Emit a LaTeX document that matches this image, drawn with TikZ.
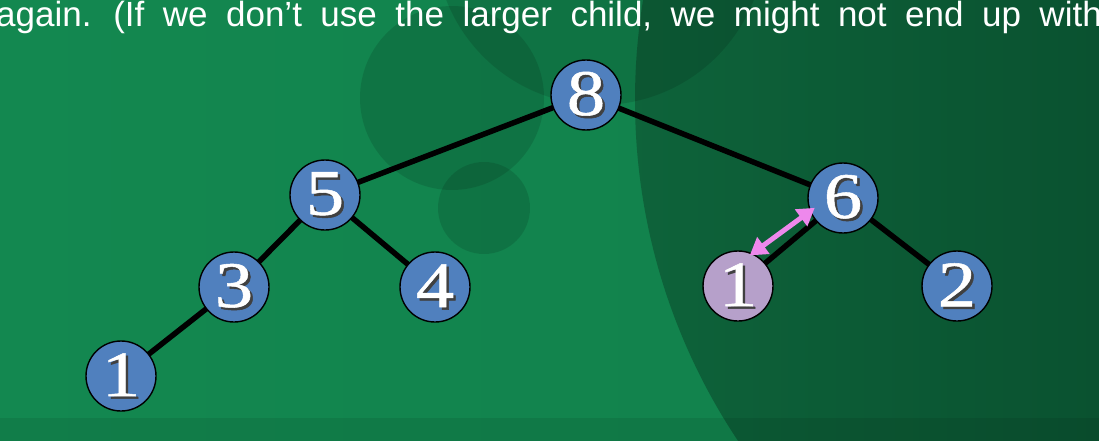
\documentclass[tikz,border=0pt]{standalone}
\usepackage{fontspec}
\setmainfont{Liberation Serif}
\newfontfamily\slidefont{Liberation Sans}
\newfontfamily\keyfont[FakeStretch=1.18,FakeBold=0.8]{Liberation Serif}
\usetikzlibrary{arrows.meta}
\definecolor{slidegreen}{RGB}{19,136,80}
\definecolor{slidegreenR}{RGB}{17,128,75}
\definecolor{darkgreen}{RGB}{14,100,59}
\definecolor{darkgreenR}{RGB}{10,82,48}
\definecolor{heapblue}{RGB}{80,128,190}
\definecolor{heaplilac}{RGB}{182,160,202}
\definecolor{swappink}{RGB}{238,136,236}
\pgfdeclarelayer{backdrop}
\pgfdeclarelayer{edges}
\pgfsetlayers{backdrop,edges,main}
\newcommand{\heapnum}[1]{\rlap{\kern2.5pt\raisebox{-2.5pt}{\color{black!75}#1}}#1}
\tikzset{
  heapnode/.style={circle,draw=black,line width=1.4pt,fill=heapblue,
    minimum size=70pt,inner sep=0pt,text=white,
    font=\keyfont\fontsize{65}{65}\selectfont},
  heapedge/.style={line width=5.5pt,black},
  bgblob/.style={fill=black,fill opacity=0.12}
}

\begin{document}
\begin{tikzpicture}[x=1pt,y=-1pt,>=Stealth]
\useasboundingbox (0,0) rectangle (1099,441);
\clip (0,0) rectangle (1099,441);
% background
\begin{pgfonlayer}{backdrop}
\shade[left color=slidegreen,right color=slidegreenR] (0,0) rectangle (1099,441);
\begin{scope}
  \clip (1250,100) circle[radius=615pt];
  \shade[left color=darkgreen,right color=darkgreenR] (600,0) rectangle (1099,441);
\end{scope}
\fill[bgblob] (600,-60) circle[radius=165pt];
\fill[bgblob] (452,98) circle[radius=92pt];
\fill[bgblob] (484,208) circle[radius=46pt];
\fill[black,fill opacity=0.08] (0,418) rectangle (1099,441);
\end{pgfonlayer}
% caption line
\node[anchor=base west,text=white,inner sep=0pt,
  font=\slidefont\fontsize{35}{40}\selectfont] (caption) at (-4,27)
  {\spaceskip=18.5pt again. (If we don’t use the larger child, we might not end up with};
% heap
\node[heapnode] (n8) at (586,95) {\heapnum{8}};
\node[heapnode] (n5) at (325,195) {\heapnum{5}};
\node[heapnode] (n6) at (843,198) {\heapnum{6}};
\node[heapnode] (n3) at (234,287) {\heapnum{3}};
\node[heapnode] (n4) at (435,287) {\heapnum{4}};
\node[heapnode,fill=heaplilac] (n1b) at (738,286) {\heapnum{1}};
\node[heapnode] (n2) at (957,286) {\heapnum{2}};
\node[heapnode] (n1a) at (121,376) {\heapnum{1}};
\begin{pgfonlayer}{edges}
\draw[heapedge] (n8.center) -- (n5.center);
\draw[heapedge] (n8.center) -- (n6.center);
\draw[heapedge] (n5.center) -- (n3.center);
\draw[heapedge] (n5.center) -- (n4.center);
\draw[heapedge] (n3.center) -- (n1a.center);
\draw[heapedge] (n6.center) -- (n1b.center);
\draw[heapedge] (n6.center) -- (n2.center);
\end{pgfonlayer}
% swap marker
\draw[{Triangle[length=17pt,width=20pt]}-{Triangle[length=17pt,width=20pt]},
  swappink,line width=5pt,shorten <=-3.5pt,shorten >=-6pt] (n1b.66) -- (n6.202);
\end{tikzpicture}
\end{document}
